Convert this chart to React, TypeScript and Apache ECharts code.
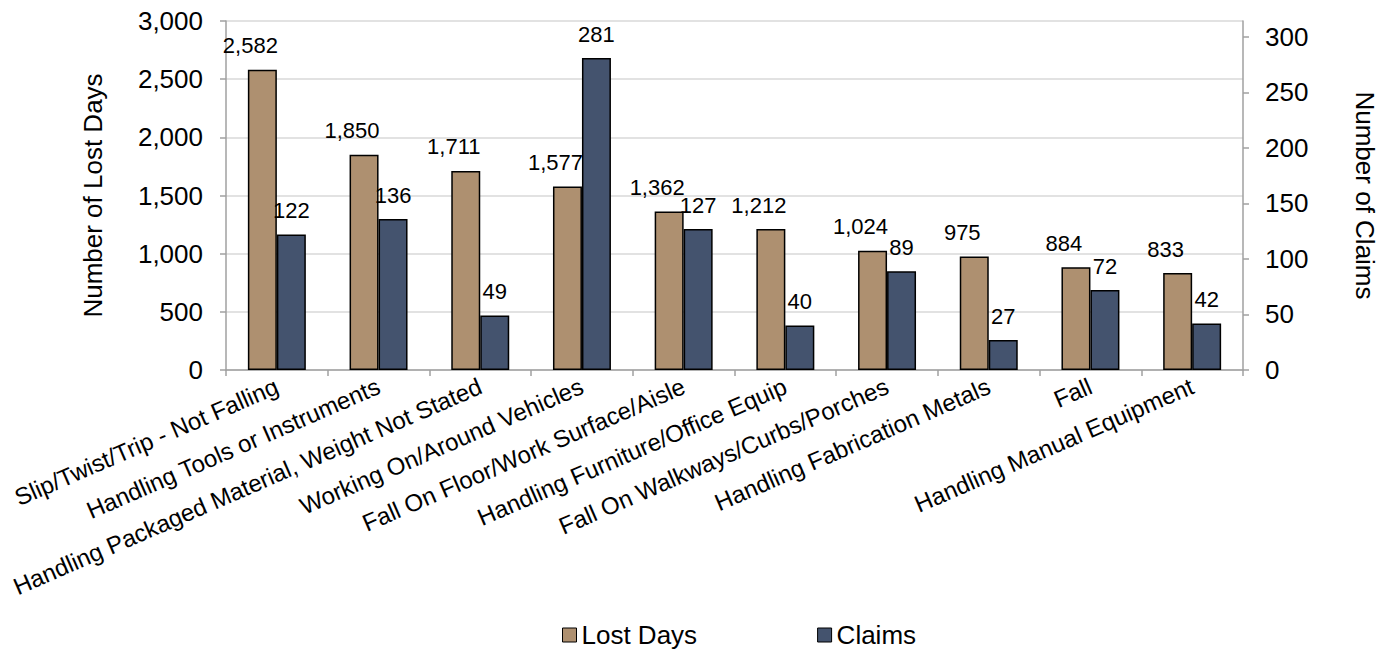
import React, { useEffect, useRef } from "react";
import * as echarts from "echarts";

const categories = [
  "Slip/Twist/Trip - Not Falling",
  "Handling Tools or Instruments",
  "Handling Packaged Material, Weight Not Stated",
  "Working On/Around Vehicles",
  "Fall On Floor/Work Surface/Aisle",
  "Handling Furniture/Office Equip",
  "Fall On Walkways/Curbs/Porches",
  "Handling Fabrication Metals",
  "Fall",
  "Handling Manual Equipment",
];
const lostDays = [2582, 1850, 1711, 1577, 1362, 1212, 1024, 975, 884, 833];
const claims = [122, 136, 49, 281, 127, 40, 89, 27, 72, 42];
const claimTicks = [0, 50, 100, 150, 200, 250, 300];

const FONT = "'Liberation Sans', Arial, sans-serif";
const TAN = "#AE9070";
const BLUE = "#44536E";
const AXIS_GRAY = "#A0A0A0";

const fmt = (v: number) => Number(v).toLocaleString("en-US");

export default function App() {
  const ref = useRef<HTMLDivElement>(null);
  useEffect(() => {
    document.body.style.margin = "0";
    if (!ref.current) return;
    const chart = echarts.init(ref.current, null, { renderer: "svg" });
    chart.setOption({
      animation: false,
      textStyle: { fontFamily: FONT, color: "#000" },
      grid: { left: 226, right: 151, top: 21, bottom: 280 },
      legend: {
        left: 562,
        top: 621,
        padding: 0,
        itemWidth: 14,
        itemHeight: 14,
        itemGap: 120,
        icon: "rect",
        textStyle: { fontSize: 26, lineHeight: 28, color: "#000", fontFamily: FONT },
        itemStyle: { borderColor: "#000", borderWidth: 1 },
        data: ["Lost Days", "Claims"],
      },
      xAxis: {
        type: "category",
        data: categories,
        axisLine: { lineStyle: { color: AXIS_GRAY, width: 1.5 } },
        axisTick: { show: true, length: 6, lineStyle: { color: AXIS_GRAY, width: 1.5 } },
        axisLabel: {
          interval: 0,
          rotate: 23.5,
          margin: 15,
          fontSize: 24,
          color: "#000",
          fontFamily: FONT,
        },
      },
      yAxis: [
        {
          type: "value",
          min: 0,
          max: 3000,
          interval: 500,
          name: "Number of Lost Days",
          nameLocation: "middle",
          nameGap: 120,
          nameRotate: 90,
          nameTextStyle: { fontSize: 26, color: "#000", fontFamily: FONT },
          axisLine: { show: true, lineStyle: { color: AXIS_GRAY, width: 1.5 } },
          axisTick: { show: true, length: 6, lineStyle: { color: AXIS_GRAY, width: 1.5 } },
          axisLabel: { fontSize: 26, color: "#000", margin: 23, formatter: fmt, fontFamily: FONT },
          splitLine: { show: true, lineStyle: { color: "#D9D9D9", width: 1.5 } },
        },
        {
          type: "value",
          min: 0,
          max: 314.4,
          interval: 50,
          position: "right",
          name: "Number of Claims",
          nameLocation: "middle",
          nameGap: 109,
          nameRotate: -90,
          nameTextStyle: { fontSize: 26, color: "#000", fontFamily: FONT },
          axisLine: { show: true, lineStyle: { color: AXIS_GRAY, width: 1.5 } },
          axisTick: {
            show: true,
            length: 6,
            customValues: claimTicks,
            lineStyle: { color: AXIS_GRAY, width: 1.5 },
          },
          axisLabel: {
            fontSize: 26,
            color: "#000",
            margin: 22,
            customValues: claimTicks,
            fontFamily: FONT,
          },
          splitLine: { show: false },
        },
      ],
      series: [
        {
          name: "Lost Days",
          type: "bar",
          yAxisIndex: 0,
          data: lostDays,
          barGap: "0%",
          barCategoryGap: "43%",
          itemStyle: { color: TAN, borderColor: "#000", borderWidth: 1.5 },
          label: {
            show: true,
            position: "top",
            distance: 13,
            offset: [-12, 0],
            fontSize: 22,
            color: "#000",
            fontFamily: FONT,
            formatter: (p: any) => fmt(p.value),
          },
        },
        {
          name: "Claims",
          type: "bar",
          yAxisIndex: 1,
          data: claims,
          barGap: "0%",
          barCategoryGap: "43%",
          itemStyle: { color: BLUE, borderColor: "#000", borderWidth: 1.5 },
          label: {
            show: true,
            position: "top",
            distance: 13,
            fontSize: 22,
            color: "#000",
            fontFamily: FONT,
            formatter: (p: any) => fmt(p.value),
          },
        },
      ],
    });
    return () => chart.dispose();
  }, []);
  return <div ref={ref} style={{ width: 1394, height: 650 }} />;
}
